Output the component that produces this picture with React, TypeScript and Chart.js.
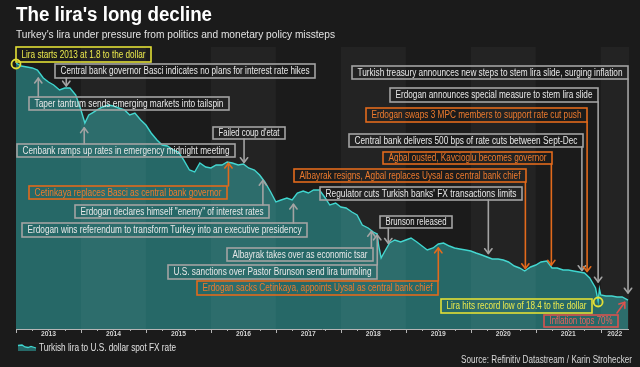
import React, { useEffect, useRef } from "react";
import { Chart, registerables } from "chart.js";
Chart.register(...registerables);

const FONT = '"Liberation Sans", Arial, Helvetica, sans-serif';

// ---- series: decimal year, lira per U.S. dollar ----
const dates = [
  2013.0, 2013.08, 2013.17, 2013.25, 2013.33, 2013.42, 2013.5, 2013.58, 2013.67, 2013.75, 2013.83, 2013.92,
  2014.0, 2014.06, 2014.12, 2014.17, 2014.25, 2014.33, 2014.42, 2014.5, 2014.58, 2014.67, 2014.75, 2014.83, 2014.92,
  2015.0, 2015.08, 2015.17, 2015.25, 2015.33, 2015.42, 2015.5, 2015.58, 2015.67, 2015.75, 2015.83, 2015.92,
  2016.0, 2016.08, 2016.17, 2016.25, 2016.33, 2016.42, 2016.5, 2016.58, 2016.67, 2016.75, 2016.83, 2016.92,
  2017.0, 2017.08, 2017.17, 2017.25, 2017.33, 2017.42, 2017.5, 2017.58, 2017.67, 2017.75, 2017.83, 2017.92,
  2018.0, 2018.08, 2018.17, 2018.25, 2018.33, 2018.42, 2018.5, 2018.56, 2018.58, 2018.62, 2018.67, 2018.75, 2018.83, 2018.92,
  2019.0, 2019.08, 2019.17, 2019.25, 2019.33, 2019.42, 2019.5, 2019.58, 2019.67, 2019.75, 2019.83, 2019.92,
  2020.0, 2020.08, 2020.17, 2020.25, 2020.33, 2020.42, 2020.5, 2020.58, 2020.67, 2020.75, 2020.83, 2020.92,
  2021.0, 2021.08, 2021.17, 2021.25, 2021.33, 2021.42, 2021.5, 2021.58, 2021.67, 2021.75, 2021.83, 2021.92, 2021.96, 2021.98,
  2022.0, 2022.08, 2022.17, 2022.25, 2022.33, 2022.42,
];
const tryPerUsd = [
  1.842, 1.863, 1.87, 1.877, 1.892, 1.952, 1.984, 2.008, 2.05, 2.033, 2.033, 2.094,
  2.237, 2.379, 2.29, 2.269, 2.237, 2.207, 2.188, 2.197, 2.217, 2.237, 2.29, 2.269, 2.344,
  2.402, 2.5, 2.593, 2.663, 2.678, 2.737, 2.768, 2.899, 3.082, 3.121, 2.952, 3.025,
  3.043, 2.988, 2.988, 2.934, 2.952, 2.988, 2.97, 3.043, 3.082, 3.182, 3.333, 3.577,
  3.858, 3.798, 3.74, 3.798, 3.603, 3.551, 3.603, 3.525, 3.525, 3.712, 3.952, 3.889,
  4.016, 4.05, 4.188, 4.298, 4.712, 4.851, 5.052, 5.16, 5.833, 6.901, 6.364, 5.698, 5.506, 5.632,
  5.506, 5.385, 5.632, 5.904, 6.203, 6.049, 5.765, 5.698, 5.904, 6.049, 6.125, 6.203,
  6.282, 6.447, 6.622, 6.806, 7.0, 7.0, 7.101, 7.313, 7.778, 8.033, 8.448, 7.903,
  7.656, 7.313, 7.206, 8.033, 8.033, 8.305, 8.305, 8.448, 8.596, 8.75, 9.608, 11.95, 17.5, 12.25,
  14.41, 14.85, 14.85, 15.31, 15.31, 16.9,
];

const yearStarts = [2013, 2014, 2015, 2016, 2017, 2018, 2019, 2020, 2021, 2022];
const yearLabels = ["2013", "2014", "2015", "2016", "2017", "2018", "2019", "2020", "2021", "2022"];

// ---- annotations (text, event date, kind) ----
const eventTexts = [
  "Lira starts 2013 at 1.8 to the dollar",
  "Central bank governor Basci indicates no plans for interest rate hikes",
  "Taper tantrum sends emerging markets into tailspin",
  "Cenbank ramps up rates in emergency midnight meeting",
  "Failed coup d'etat",
  "Cetinkaya replaces Basci as central bank governor",
  "Erdogan declares himself \"enemy\" of interest rates",
  "Erdogan wins referendum to transform Turkey into an executive presidency",
  "Albayrak takes over as economic tsar",
  "U.S. sanctions over Pastor Brunson send lira tumbling",
  "Erdogan sacks Cetinkaya, appoints Uysal as central bank chief",
  "Brunson released",
  "Regulator cuts Turkish banks' FX transactions limits",
  "Albayrak resigns, Agbal replaces Uysal as central bank chief",
  "Agbal ousted, Kavcioglu becomes governor",
  "Central bank delivers 500 bps of rate cuts between Sept-Dec",
  "Erdogan swaps 3 MPC members to support rate cut push",
  "Erdogan announces special measure to stem lira slide",
  "Turkish treasury announces new steps to stem lira slide, surging inflation",
  "Lira hits record low of 18.4 to the dollar",
  "Inflation tops 70%",
];
const eventDates = [
  2013.0, 2013.774, 2013.343, 2014.05, 2016.51, 2016.27, 2016.8, 2017.27, 2018.47, 2018.56, 2019.5,
  2018.73, 2020.27, 2020.84, 2021.24, 2021.71, 2021.79, 2021.96, 2022.42, 2021.96, 2022.4,
];
const eventKinds = [
  "yellow", "gray", "gray", "gray", "gray", "orange", "gray", "gray", "gray", "gray", "orange",
  "gray", "gray", "orange", "orange", "gray", "orange", "gray", "gray", "yellow", "red",
];
const eventMarkers = [
  "circle", "arrow", "arrow", "arrow", "arrow", "arrow", "arrow", "arrow", "arrow", "arrow", "arrow",
  "arrow", "arrow", "arrow", "arrow", "arrow", "arrow", "arrow", "arrow", "circle", "diag",
];

// ---- layout of the annotation boxes (pixels) and arrow gaps ----
const eventBoxes = [
  [16, 47, 151, 62], [55, 64, 315, 78], [29, 97, 229, 110], [17, 144, 235, 157], [213, 127, 285, 139],
  [29, 186, 227, 199], [75, 205, 269, 218], [22, 223, 307, 237], [227, 248, 373, 261], [168, 265, 377, 279],
  [197, 281, 438, 295], [380, 216, 452, 228], [320, 187, 522, 200], [294, 169, 526, 182], [383, 152, 552, 164],
  [349, 134, 583, 147], [366, 108, 587, 122], [390, 88, 598, 102], [352, 66, 628, 79], [441, 299, 592, 313],
  [544, 315, 618, 327],
];
const eventGaps = [0, 2, 7, 7, 2, 1, 1, 6, 1, 1, 4, 2, 4, 2, 2, 2, 4, 19, 7, 0, 3];

const COLORS: Record<string, { border: string; text: string }> = {
  gray: { border: "#a3a3a3", text: "#e8e8e8" },
  orange: { border: "#e26a1c", text: "#ef7b2d" },
  yellow: { border: "#e2df36", text: "#ecea4c" },
  red: { border: "#d9534f", text: "#ea625c" },
};

const BG = "#1b1b1b";
const AREA = "rgba(38,104,103,1)";
const LINE = "#3fd6cf";

function valueAt(d: number): number {
  for (let i = 0; i < dates.length - 1; i++) {
    if (d >= dates[i] && d <= dates[i + 1]) {
      const t = (d - dates[i]) / (dates[i + 1] - dates[i]);
      const a = 1 / tryPerUsd[i];
      const b = 1 / tryPerUsd[i + 1];
      return a + (b - a) * t;
    }
  }
  return 1 / tryPerUsd[d < dates[0] ? 0 : tryPerUsd.length - 1];
}

function drawArrow(ctx: CanvasRenderingContext2D, x0: number, y0: number, x1: number, y1: number, color: string) {
  ctx.save();
  ctx.strokeStyle = color;
  ctx.lineWidth = 1.6;
  ctx.lineCap = "round";
  ctx.lineJoin = "round";
  ctx.beginPath();
  ctx.moveTo(x0, y0);
  ctx.lineTo(x1, y1);
  ctx.stroke();
  const ang = Math.atan2(y1 - y0, x1 - x0);
  const len = 6;
  const spread = 0.65;
  ctx.beginPath();
  ctx.moveTo(x1 - len * Math.cos(ang - spread), y1 - len * Math.sin(ang - spread));
  ctx.lineTo(x1, y1);
  ctx.lineTo(x1 - len * Math.cos(ang + spread), y1 - len * Math.sin(ang + spread));
  ctx.stroke();
  ctx.restore();
}

const decorPlugin = {
  id: "decor",
  beforeDraw(chart: any) {
    const ctx = chart.ctx as CanvasRenderingContext2D;
    ctx.save();
    ctx.fillStyle = BG;
    ctx.fillRect(0, 0, chart.width, chart.height);
    ctx.restore();
  },
  afterDatasetsDraw(chart: any) {
    const ctx = chart.ctx as CanvasRenderingContext2D;
    const xs = chart.scales.x;
    const ys = chart.scales.y;
    const area = chart.chartArea;

    // alternating year bands
    ctx.save();
    ctx.fillStyle = "rgba(255,255,255,0.035)";
    yearStarts.forEach((y, i) => {
      if (i % 2 === 1) {
        const x1 = xs.getPixelForValue(y);
        const x2 = Math.min(xs.getPixelForValue(y + 1), area.right);
        ctx.fillRect(x1, area.top, x2 - x1, area.bottom - area.top);
      }
    });
    ctx.restore();

    // x axis
    ctx.save();
    ctx.strokeStyle = "#b5b5b5";
    ctx.lineWidth = 1;
    ctx.beginPath();
    ctx.moveTo(area.left, area.bottom + 0.5);
    ctx.lineTo(area.right, area.bottom + 0.5);
    ctx.stroke();
    yearStarts.forEach((y) => {
      for (let q = 0; q < 4; q++) {
        const v = y + q * 0.25;
        if (v > xs.max) continue;
        const px = Math.round(xs.getPixelForValue(v)) + 0.5;
        ctx.beginPath();
        ctx.moveTo(px, area.bottom);
        ctx.lineTo(px, area.bottom + (q === 0 ? 4 : 2));
        ctx.stroke();
      }
    });
    ctx.fillStyle = "#d2d2d2";
    ctx.font = `bold 7.5px ${FONT}`;
    ctx.textAlign = "center";
    ctx.textBaseline = "middle";
    yearStarts.forEach((y, i) => {
      const x1 = xs.getPixelForValue(y);
      const x2 = Math.min(xs.getPixelForValue(y + 1), area.right);
      ctx.fillText(yearLabels[i], (x1 + x2) / 2, area.bottom + 4.5, 15);
    });
    ctx.restore();

    // annotations
    ctx.save();
    ctx.font = `10px ${FONT}`;
    ctx.textAlign = "center";
    ctx.textBaseline = "middle";
    eventTexts.forEach((text, i) => {
      const c = COLORS[eventKinds[i]];
      const [bx1, by1, bx2, by2] = eventBoxes[i];
      ctx.strokeStyle = c.border;
      ctx.lineWidth = 1.6;
      ctx.strokeRect(bx1, by1, bx2 - bx1, by2 - by1);
      ctx.fillStyle = c.text;
      ctx.fillText(text, (bx1 + bx2) / 2, (by1 + by2) / 2 + 0.5, bx2 - bx1 - 11);

      const d = eventDates[i];
      const px = xs.getPixelForValue(d);
      const py = ys.getPixelForValue(valueAt(d));
      const marker = eventMarkers[i];
      if (marker === "circle") {
        ctx.beginPath();
        ctx.lineWidth = 1.8;
        ctx.arc(px, py + 1, 4.5, 0, Math.PI * 2);
        ctx.stroke();
      } else if (marker === "diag") {
        drawArrow(ctx, bx2 - 1, by1 - 2, px - 2, py + eventGaps[i], c.border);
      } else {
        if (by2 < py) {
          drawArrow(ctx, px, by2, px, py - eventGaps[i], c.border);
        } else {
          drawArrow(ctx, px, by1, px, py + eventGaps[i], c.border);
        }
      }
    });
    ctx.restore();

    // titles, legend, source
    ctx.save();
    ctx.textBaseline = "alphabetic";
    ctx.textAlign = "left";
    ctx.fillStyle = "#ffffff";
    ctx.font = `bold 20px ${FONT}`;
    ctx.fillText("The lira's long decline", 16, 21, 196);
    ctx.fillStyle = "#e2e2e2";
    ctx.font = `11px ${FONT}`;
    ctx.fillText("Turkey's lira under pressure from politics and monetary policy missteps", 16, 38, 319);

    // legend icon
    ctx.beginPath();
    ctx.moveTo(18, 351);
    ctx.lineTo(18, 345.5);
    ctx.lineTo(22, 345);
    ctx.lineTo(25, 347);
    ctx.lineTo(28, 347.5);
    ctx.lineTo(31, 346.5);
    ctx.lineTo(36, 348);
    ctx.lineTo(36, 351);
    ctx.closePath();
    ctx.fillStyle = AREA;
    ctx.fill();
    ctx.beginPath();
    ctx.moveTo(18, 345.5);
    ctx.lineTo(22, 345);
    ctx.lineTo(25, 347);
    ctx.lineTo(28, 347.5);
    ctx.lineTo(31, 346.5);
    ctx.lineTo(36, 348);
    ctx.strokeStyle = LINE;
    ctx.lineWidth = 1.3;
    ctx.stroke();
    ctx.fillStyle = "#e2e2e2";
    ctx.font = `10.5px ${FONT}`;
    ctx.fillText("Turkish lira to U.S. dollar spot FX rate", 39, 351, 137);

    ctx.textAlign = "right";
    ctx.font = `10px ${FONT}`;
    ctx.fillStyle = "#d8d8d8";
    ctx.fillText("Source: Refinitiv Datastream / Karin Strohecker", 632, 363, 171);
    ctx.restore();
  },
};

export default function App() {
  const ref = useRef<HTMLCanvasElement | null>(null);
  useEffect(() => {
    document.body.style.margin = "0";
    document.body.style.background = BG;
    const canvas = ref.current;
    if (!canvas) return;
    const points = dates.map((d, i) => ({ x: d, y: 1 / tryPerUsd[i] }));
    const chart = new Chart(canvas, {
      type: "line",
      data: {
        datasets: [
          {
            label: "Turkish lira to U.S. dollar spot FX rate",
            data: points,
            borderColor: LINE,
            backgroundColor: AREA,
            borderWidth: 1.4,
            pointRadius: 0,
            fill: "origin",
            tension: 0,
          },
        ],
      },
      options: {
        responsive: false,
        animation: false,
        devicePixelRatio: 1,
        layout: { padding: { left: 16, right: 11, top: 47, bottom: 38 } },
        scales: {
          x: { type: "linear", min: 2013, max: 2022.435, display: false },
          y: { type: "linear", min: 0, max: 282 / 490, display: false },
        },
        plugins: { legend: { display: false }, title: { display: false }, tooltip: { enabled: false } },
      },
      plugins: [decorPlugin],
    });
    return () => chart.destroy();
  }, []);
  return (
    <div style={{ width: 640, height: 367, background: BG }}>
      <canvas ref={ref} width={640} height={367} style={{ display: "block", width: 640, height: 367 }} />
    </div>
  );
}
